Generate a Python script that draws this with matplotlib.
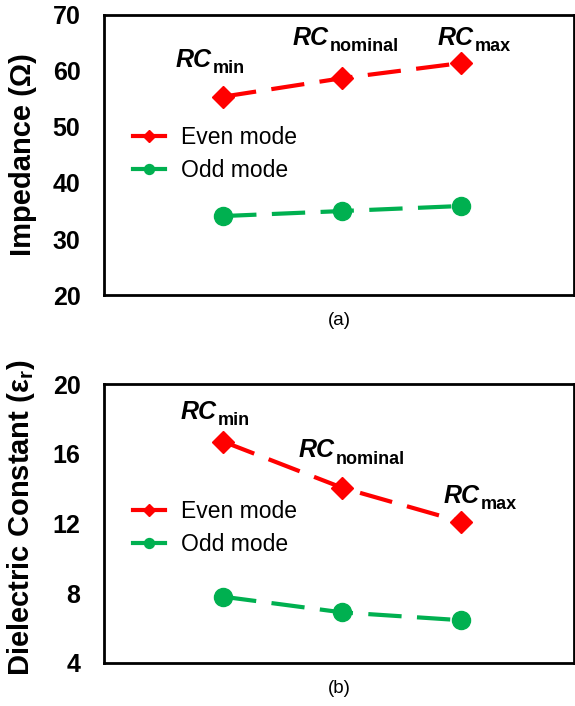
import numpy as np
from matplotlib import pyplot as plt

plt.rcParams['font.family'] = ['Liberation Sans', 'DejaVu Sans']
plt.rcParams['mathtext.fontset'] = 'custom'
plt.rcParams['mathtext.rm'] = 'Liberation Sans:bold'
plt.rcParams['mathtext.bf'] = 'Liberation Sans:bold'

# data
corners = ['min', 'nominal', 'max']
x_pos = [1, 2, 3]
imp_even = [55.4, 58.7, 61.4]
imp_odd = [34.1, 35.0, 35.9]
eps_even = [16.7, 14.05, 12.1]
eps_odd = [7.8, 6.9, 6.45]

imp_ticks = [20, 30, 40, 50, 60, 70]
eps_ticks = [4, 8, 12, 16, 20]

# corner label anchors (left, baseline) in data coords
imp_label_pos = [(0.60, 60.7), (1.58, 64.6), (2.80, 64.6)]
eps_label_pos = [(0.64, 18.0), (1.63, 15.8), (2.85, 13.2)]

fig = plt.figure(figsize=(5.75, 7.06), dpi=100)
ax1 = fig.add_axes([0.181, 0.582, 0.818, 0.397])
ax2 = fig.add_axes([0.181, 0.061, 0.818, 0.395])


def draw(ax, even, odd, ticks, ylabel, label_y, label_pos, tag, leg_anchor):
    ax.plot(x_pos, even, color='#ff0000', lw=3, ls=(0, (8, 3.7)), marker='D',
            ms=11.5, label='Even mode')
    ax.plot(x_pos, odd, color='#00b050', lw=3, ls=(0, (8, 3.7)), marker='o',
            ms=13, label='Odd mode')
    ax.set_xlim(0, 3.95)
    ax.set_ylim(ticks[0], ticks[-1])
    ax.set_yticks(ticks)
    ax.set_yticklabels([str(t) for t in ticks], fontsize=18, fontweight='bold')
    ax.set_xticks([])
    ax.tick_params(axis='y', length=0, pad=17)
    for s in ax.spines.values():
        s.set_linewidth(2)
    ax.set_ylabel(ylabel, fontsize=21, fontweight='bold')
    ax.yaxis.set_label_coords(-0.1425, label_y)
    for name, (lx, ly) in zip(corners, label_pos):
        t = ax.text(lx, ly, 'RC', fontsize=18, fontweight='bold', style='italic',
                    ha='left', va='baseline')
        ax.annotate(name, xy=(1, 0), xycoords=t, xytext=(1, -1),
                    textcoords='offset points', fontsize=13, fontweight='bold',
                    ha='left', va='baseline')
    leg = ax.legend(loc='upper left', bbox_to_anchor=leg_anchor, frameon=False,
                    fontsize=16.5, handlelength=1.4, handletextpad=0.7,
                    labelspacing=0.45, borderpad=0, borderaxespad=0,
                    markerscale=0.55)
    for h in leg.legend_handles:
        h.set_linestyle('-')
    ax.text(0.5, -0.09, tag, transform=ax.transAxes, ha='center', va='center',
            fontsize=13.5)


draw(ax1, imp_even, imp_odd, imp_ticks, 'Impedance (Ω)', 0.5, imp_label_pos, '(a)',
     (0.062, 0.605))
draw(ax2, eps_even, eps_odd, eps_ticks, r'Dielectric Constant (ε$_{\mathrm{r}}$)', 0.52,
     eps_label_pos, '(b)', (0.062, 0.585))

fig.savefig('out.png', dpi=100)
